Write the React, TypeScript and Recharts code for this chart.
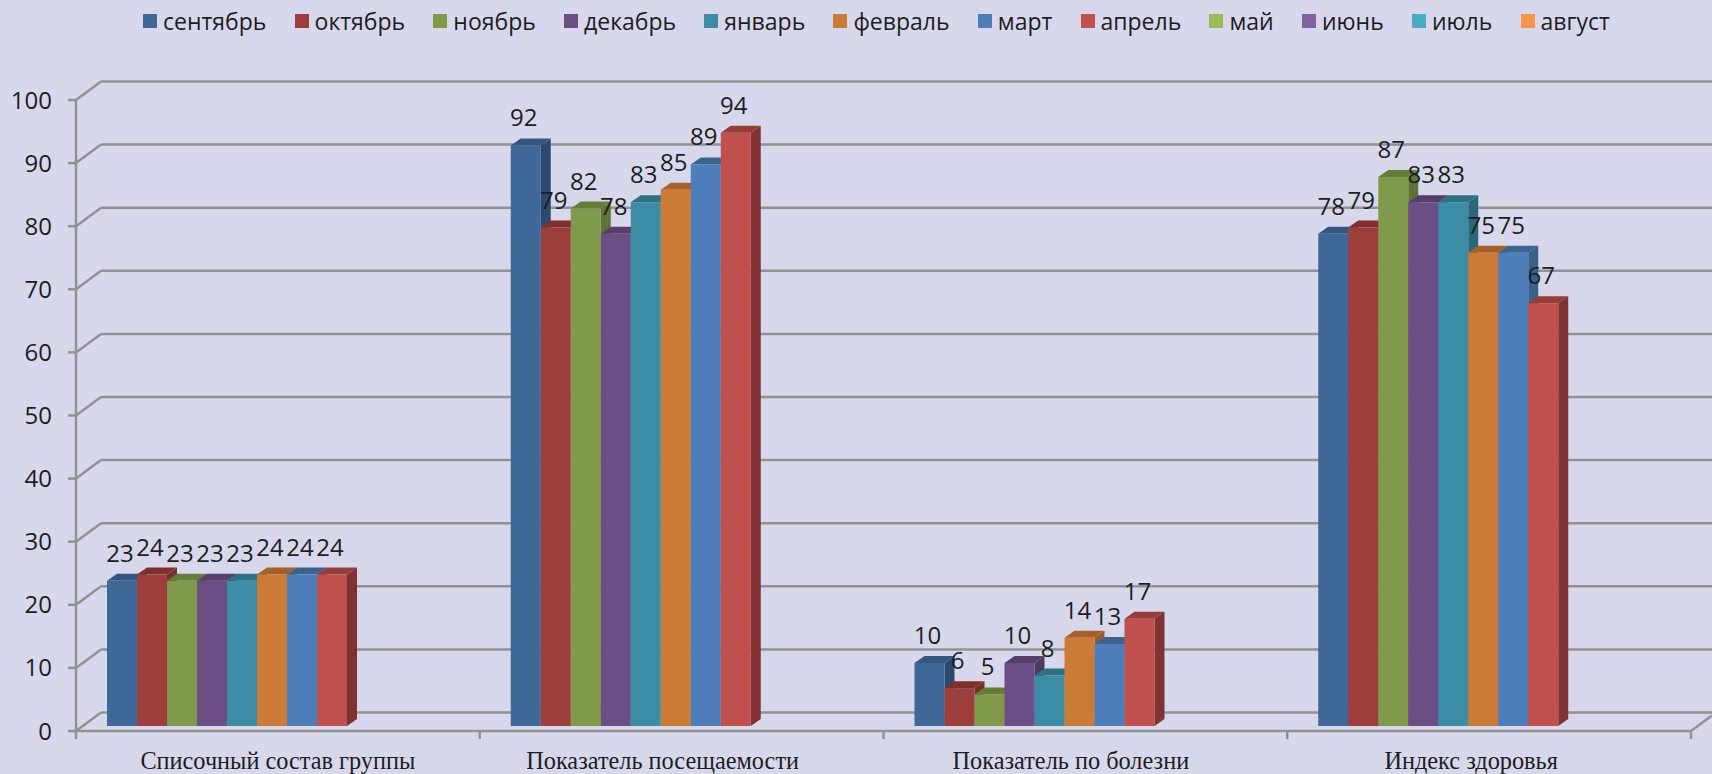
import { BarChart, Bar, XAxis, YAxis, CartesianGrid, Legend, LabelList } from 'recharts';

const categories = ['Списочный состав группы', 'Показатель посещаемости', 'Показатель по болезни', 'Индекс здоровья'];
const months = ['сентябрь', 'октябрь', 'ноябрь', 'декабрь', 'январь', 'февраль', 'март', 'апрель', 'май', 'июнь', 'июль', 'август'];

const september = [23, 92, 10, 78];
const october = [24, 79, 6, 79];
const november = [23, 82, 5, 87];
const december = [23, 78, 10, 83];
const january = [23, 83, 8, 83];
const february = [24, 85, 14, 75];
const march = [24, 89, 13, 75];
const april = [24, 94, 17, 67];
const may: number[] = [];
const june: number[] = [];
const july: number[] = [];
const august: number[] = [];
const seriesValues = [september, october, november, december, january, february, march, april, may, june, july, august];

const yTicks = [0, 10, 20, 30, 40, 50, 60, 70, 80, 90, 100];

const frontColors = ['#3f6797', '#9c3e3c', '#80994a', '#6a4e84', '#3b8ca4', '#cb7b36', '#4e7eba', '#c0504d', '#9bbb59', '#8064a2', '#4bacc6', '#f79646'];
const sideColors = ['#2b4a6f', '#75302e', '#5f7336', '#4e3962', '#2a6779', '#965a27', '#386089', '#7f3231', '#73893f', '#5e4a78', '#367f92', '#b66f33'];
const topColors = ['#325680', '#812f2d', '#667d3a', '#563d6c', '#2e7185', '#a66129', '#3c648f', '#963c3a', '#7c9647', '#665082', '#3c8a9e', '#c67838'];

const data = categories.map((name, i) => {
  const row: Record<string, number | string | undefined> = { name };
  months.forEach((m, s) => {
    row[m] = seriesValues[s][i];
  });
  return row;
});

const WIDTH = 1712;
const HEIGHT = 774;
const LEFT = 76;
const RIGHT = 21;
const BOTTOM = 43;
const BAND = (WIDTH - LEFT - RIGHT) / categories.length;
const LINE = '#929292';
const INK = '#1d1d1d';
const SANS = '"Open Sans", sans-serif';

// the category names do not sit quite in the middle of their bands in the original
const LABEL_SHIFT = [0, -19, -14.5, -18];

// the bars stand a little inside the box, the gridlines are on its back wall
const BAR_DX = 9;
const BAR_DY = -5;
const DEPTH_X = 10;
const DEPTH_Y = 7;
const WALL_DX = 25;
const WALL_DY = -18.5;

function bar3d(s: number) {
  return function Bar3d(props: any) {
    const { x, y, width, height } = props;
    if (!Number.isFinite(y) || !height) return null;
    const l = x + BAR_DX;
    const r = l + width;
    const t = y + BAR_DY;
    const b = t + height;
    return (
      <g>
        <polygon points={`${r},${t} ${r + DEPTH_X},${t - DEPTH_Y} ${r + DEPTH_X},${b - DEPTH_Y} ${r},${b}`} fill={sideColors[s]} />
        <polygon points={`${l},${t} ${l + DEPTH_X},${t - DEPTH_Y} ${r + DEPTH_X},${t - DEPTH_Y} ${r},${t}`} fill={topColors[s]} />
        <rect x={l} y={t} width={width} height={height} fill={frontColors[s]} />
      </g>
    );
  };
}

function BarValue(props: any) {
  const { x, y, width, value } = props;
  if (value === undefined || value === null) return null;
  return (
    <text x={x + BAR_DX + width / 2 - 2} y={y + BAR_DY - 19} textAnchor="middle" fontFamily={SANS} fontSize={24} fill={INK}>
      {value}
    </text>
  );
}

function WallLine(props: any) {
  const { x1, x2, y1, index } = props;
  const backY = y1 + WALL_DY;
  return (
    <g key={index} stroke={LINE} strokeWidth={2.5} fill="none">
      <line x1={x1} y1={y1} x2={x1 + WALL_DX} y2={backY} />
      <line x1={x1 + WALL_DX} y1={backY} x2={x2 + RIGHT} y2={backY} />
      {y1 > 700 ? <line x1={x2} y1={y1} x2={x2 + RIGHT} y2={y1 + (WALL_DY * RIGHT) / WALL_DX} /> : null}
    </g>
  );
}

function CategoryTick(props: any) {
  const { x, y, payload, index } = props;
  const top = y - 8;
  return (
    <g>
      <line x1={x - BAND / 2} y1={top} x2={x - BAND / 2} y2={top + 8} stroke={LINE} strokeWidth={2.5} />
      {index === categories.length - 1 ? (
        <line x1={x + BAND / 2} y1={top} x2={x + BAND / 2} y2={top + 8} stroke={LINE} strokeWidth={2.5} />
      ) : null}
      <text x={x + LABEL_SHIFT[index]} y={769} textAnchor="middle" fontFamily='"Liberation Serif", serif' fontSize={24.3} fill={INK}>
        {payload.value}
      </text>
    </g>
  );
}

function MonthLegend({ payload }: any) {
  return (
    <div style={{ display: 'flex', alignItems: 'center', height: 42, paddingLeft: 143, gap: 28.2, fontFamily: SANS, fontSize: 23, color: INK }}>
      {payload.map((p: any) => (
        <span key={p.value} style={{ display: 'flex', alignItems: 'center', gap: 6 }}>
          <span style={{ width: 14, height: 14, background: p.color }} />
          {p.value}
        </span>
      ))}
    </div>
  );
}

export default function App() {
  return (
    <div style={{ position: 'absolute', left: 0, top: 0, width: WIDTH, height: HEIGHT, background: '#d8d8ec', overflow: 'hidden' }}>
      <BarChart
        width={WIDTH}
        height={HEIGHT}
        data={data}
        margin={{ top: 58, right: RIGHT, bottom: 0, left: 0 }}
        barGap={0}
        barCategoryGap={22}
      >
        <Legend verticalAlign="top" align="left" itemSorter={null} content={<MonthLegend />} wrapperStyle={{ left: 0, top: 0, width: WIDTH }} />
        <CartesianGrid vertical={false} horizontal={WallLine} />
        <XAxis
          dataKey="name"
          height={BOTTOM}
          axisLine={{ stroke: LINE, strokeWidth: 2.5 }}
          tickLine={false}
          tick={<CategoryTick />}
          interval={0}
        />
        <YAxis
          width={LEFT}
          domain={[0, 100]}
          ticks={yTicks}
          interval={0}
          axisLine={{ stroke: LINE, strokeWidth: 2.5 }}
          tickLine={{ stroke: LINE, strokeWidth: 2.5 }}
          tickSize={8}
          tickMargin={16}
          tick={{ fill: INK, fontSize: 24, fontFamily: SANS }}
        />
        {months.map((m, s) => (
          <Bar key={m} dataKey={m} fill={frontColors[s]} shape={bar3d(s)} isAnimationActive={false}>
            <LabelList dataKey={m} content={<BarValue />} />
          </Bar>
        ))}
      </BarChart>
    </div>
  );
}
